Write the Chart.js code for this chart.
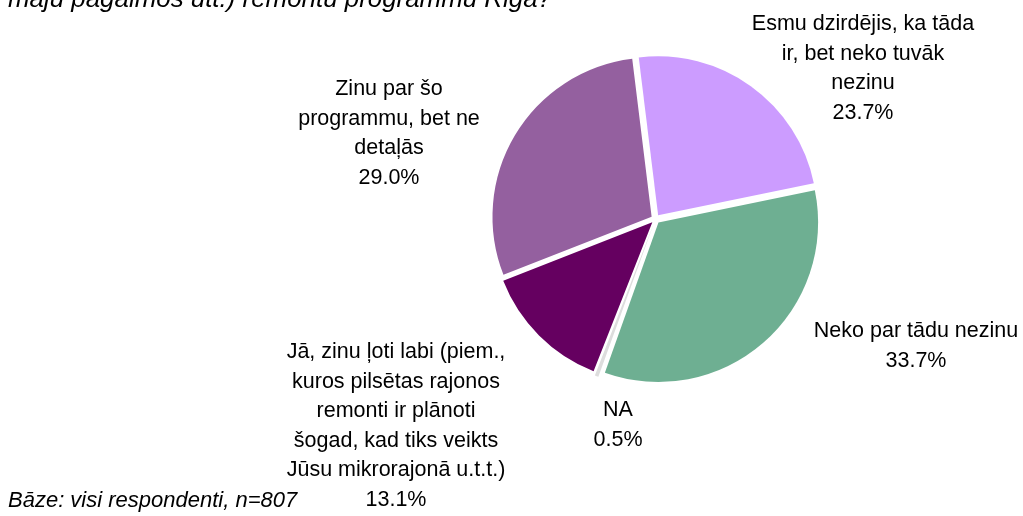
<!DOCTYPE html>
<html>
<head>
<meta charset="utf-8">
<script src="https://cdn.jsdelivr.net/npm/chart.js@4.4.1/dist/chart.umd.min.js"></script>
<style>
  html, body { margin: 0; padding: 0; background: #fff; }
  #wrap { width: 1023px; height: 516px; position: relative; }
</style>
</head>
<body>
<div id="wrap"><canvas id="pie" width="1023" height="516"></canvas></div>
<script>
// dati (clockwise from top)
const categories = [
  ['Esmu dzirdējis, ka tāda', 'ir, bet neko tuvāk', 'nezinu'],
  ['Neko par tādu nezinu'],
  ['NA'],
  ['Jā, zinu ļoti labi (piem.,', 'kuros pilsētas rajonos', 'remonti ir plānoti', 'šogad, kad tiks veikts', 'Jūsu mikrorajonā u.t.t.)'],
  ['Zinu par šo', 'programmu, bet ne', 'detaļās']
];
const shares = [23.7, 33.7, 0.5, 13.1, 29.0];
const sliceColors = ['#CC9CFF', '#6EAF92', '#DDDDDD', '#650060', '#94609F'];

const titleText = 'māju pagalmos utt.) remontu programmu Rīgā?';
const baseText = 'Bāze: visi respondenti, n=807';

// label placement: centre x, first baseline
const labelPos = [
  { x: 863, y: 30 },
  { x: 916, y: 337 },
  { x: 618, y: 416 },
  { x: 396, y: 358 },
  { x: 389, y: 95 }
];
const lineStep = 29.5;
const labelFont = '21.5px "Liberation Sans", Arial, sans-serif';

const textPlugin = {
  id: 'textPlugin',
  afterDraw(chart) {
    const ctx = chart.ctx;
    ctx.save();
    ctx.fillStyle = '#000';
    ctx.textBaseline = 'alphabetic';

    // title (cut off at top)
    ctx.font = 'italic 25.9px "Liberation Sans", Arial, sans-serif';
    ctx.textAlign = 'left';
    ctx.fillText(titleText, 8, 7);

    // base note
    ctx.font = 'italic 22px "Liberation Sans", Arial, sans-serif';
    ctx.fillText(baseText, 8, 507);

    // slice labels
    ctx.font = labelFont;
    ctx.textAlign = 'center';
    categories.forEach(function(lines, i) {
      const all = lines.concat([shares[i].toFixed(1) + '%']);
      all.forEach(function(t, k) {
        ctx.fillText(t, labelPos[i].x, labelPos[i].y + k * lineStep);
      });
    });
    ctx.restore();
  }
};

new Chart(document.getElementById('pie').getContext('2d'), {
  type: 'pie',
  data: {
    labels: categories.map(function(l) { return l.join(' '); }),
    datasets: [{
      data: shares,
      backgroundColor: sliceColors,
      borderWidth: 0,
      offset: 18
    }]
  },
  options: {
    responsive: false,
    animation: false,
    rotation: -7,
    radius: 159,
    layout: {
      padding: { left: 496, right: 208, top: 59, bottom: 137 }
    },
    plugins: {
      legend: { display: false },
      tooltip: { enabled: false }
    }
  },
  plugins: [textPlugin]
});
</script>
</body>
</html>
